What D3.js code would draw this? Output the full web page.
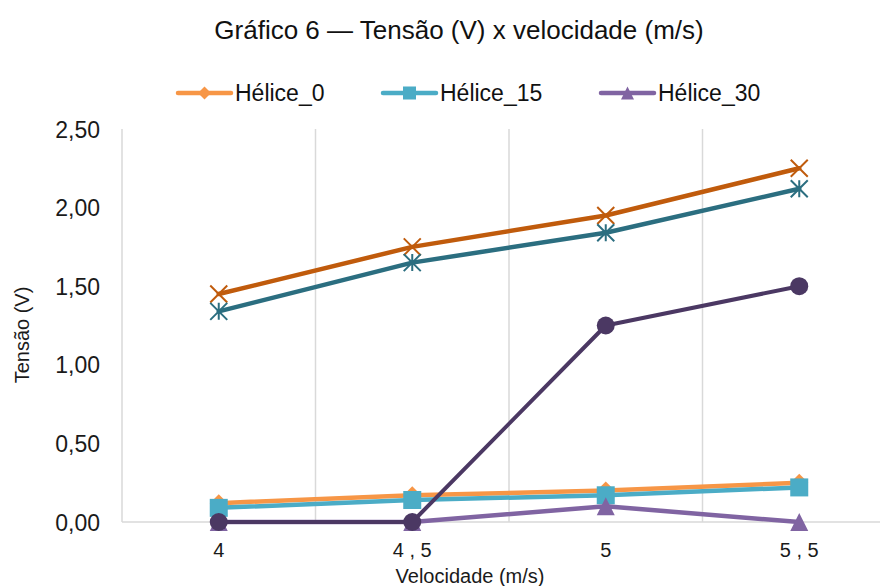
<!DOCTYPE html>
<html>
<head>
<meta charset="utf-8">
<script src="https://cdn.jsdelivr.net/npm/d3@7"></script>
<style>
  html, body { margin: 0; padding: 0; background: #fff; }
  svg { display: block; font-family: "Liberation Sans", Arial, sans-serif; }
</style>
</head>
<body>
<svg id="chart" width="880" height="586"></svg>
<script>
// Velocidades (m/s) e tensões medidas (V)
const categories = ["4", "4 , 5", "5", "5 , 5"];
const yTicks = [0, 0.5, 1, 1.5, 2, 2.5];

const helice0  = [0.12, 0.17, 0.20, 0.25];
const helice15 = [0.09, 0.14, 0.17, 0.22];
const helice30 = [0.00, 0.00, 0.10, 0.00];
const serie4   = [1.45, 1.75, 1.95, 2.25];
const serie5   = [1.34, 1.65, 1.84, 2.12];
const serie6   = [0.00, 0.00, 1.25, 1.50];

const seriesNames = ["Hélice_0", "Hélice_15", "Hélice_30", "Série4", "Série5", "Série6"];
const seriesValues = [helice0, helice15, helice30, serie4, serie5, serie6];
const seriesColors = ["#F79646", "#4BACC6", "#8064A2", "#C05B0C", "#2B6E80", "#4B3863"];
const seriesMarkers = ["diamond", "square", "triangle", "x", "asterisk", "circle"];

const svg = d3.select("#chart");
const margin = { left: 122, top: 129, bottom: 522 };

const x = d3.scaleBand().domain(categories).range([margin.left, margin.left + 774]).paddingInner(0).paddingOuter(0);
const y = d3.scaleLinear().domain([0, 2.5]).range([margin.bottom, margin.top]);
const cx = c => x(c) + x.bandwidth() / 2;

// Grade vertical entre categorias
svg.append("g").selectAll("line")
  .data(categories)
  .enter().append("line")
  .attr("x1", c => x(c)).attr("x2", c => x(c))
  .attr("y1", margin.top).attr("y2", margin.bottom)
  .attr("stroke", "#D9D9D9").attr("stroke-width", 1.5);

// Eixo Y
const yAxis = d3.axisLeft(y).tickValues(yTicks)
  .tickFormat(d => d3.format(".2f")(d).replace(".", ","))
  .tickSize(0).tickPadding(22);
const yG = svg.append("g").attr("transform", `translate(${margin.left},0)`).call(yAxis);
yG.select(".domain").remove();
yG.selectAll("text").attr("font-size", 23).attr("fill", "#1a1a1a").attr("dy", "0.35em");

// Linha base
svg.append("line")
  .attr("x1", margin.left).attr("x2", 880)
  .attr("y1", y(0)).attr("y2", y(0))
  .attr("stroke", "#D9D9D9").attr("stroke-width", 1.5);

// Eixo X
const xAxis = d3.axisBottom(x).tickSize(0).tickPadding(21);
const xG = svg.append("g").attr("transform", `translate(0,${margin.bottom})`).call(xAxis);
xG.select(".domain").remove();
xG.selectAll("text").attr("font-size", 20).attr("fill", "#1a1a1a");

// Títulos
svg.append("text").attr("x", 459).attr("y", 39).attr("text-anchor", "middle")
  .attr("font-size", 26).attr("fill", "#111")
  .text("Gráfico 6 — Tensão (V) x velocidade (m/s)");
svg.append("text").attr("x", 470).attr("y", 583).attr("text-anchor", "middle")
  .attr("font-size", 20).attr("fill", "#1a1a1a").text("Velocidade (m/s)");
svg.append("text")
  .attr("transform", `translate(29,335) rotate(-90)`)
  .attr("text-anchor", "middle").attr("font-size", 20).attr("fill", "#1a1a1a")
  .text("Tensão (V)");

// Marcadores
function drawMarker(g, type, px, py, color, s) {
  const h = s / 2;
  if (type === "diamond") {
    g.append("path").attr("d", `M${px},${py - h}L${px + h},${py}L${px},${py + h}L${px - h},${py}Z`).attr("fill", color);
  } else if (type === "square") {
    g.append("rect").attr("x", px - h).attr("y", py - h).attr("width", s).attr("height", s).attr("fill", color);
  } else if (type === "triangle") {
    g.append("path").attr("d", `M${px},${py - h}L${px + h},${py + h}L${px - h},${py + h}Z`).attr("fill", color);
  } else if (type === "circle") {
    g.append("circle").attr("cx", px).attr("cy", py).attr("r", h).attr("fill", color);
  } else if (type === "x") {
    g.append("path").attr("d", `M${px - h},${py - h}L${px + h},${py + h}M${px + h},${py - h}L${px - h},${py + h}`)
      .attr("stroke", color).attr("stroke-width", 2).attr("fill", "none");
  } else if (type === "asterisk") {
    g.append("path").attr("d", `M${px - h},${py - h}L${px + h},${py + h}M${px + h},${py - h}L${px - h},${py + h}M${px},${py - h}L${px},${py + h}`)
      .attr("stroke", color).attr("stroke-width", 2).attr("fill", "none");
  }
}

const line = d3.line().x((d, i) => cx(categories[i])).y(d => y(d));
const markerSizes = [18, 18, 18, 17, 17, 18];

seriesValues.forEach((vals, si) => {
  const g = svg.append("g");
  g.append("path").datum(vals).attr("d", line)
    .attr("fill", "none").attr("stroke", seriesColors[si])
    .attr("stroke-width", si === 5 ? 4 : 4.5).attr("stroke-linejoin", "round").attr("stroke-linecap", "round");
  vals.forEach((v, i) => drawMarker(g, seriesMarkers[si], cx(categories[i]), y(v), seriesColors[si], markerSizes[si]));
});

// Legenda
const legendItems = [
  { idx: 0, x0: 178 },
  { idx: 1, x0: 383 },
  { idx: 2, x0: 601 }
];
const lg = svg.append("g");
legendItems.forEach(it => {
  const ly = 93;
  lg.append("line").attr("x1", it.x0).attr("x2", it.x0 + 53).attr("y1", ly).attr("y2", ly)
    .attr("stroke", seriesColors[it.idx]).attr("stroke-width", 4.5).attr("stroke-linecap", "round");
  drawMarker(lg, seriesMarkers[it.idx], it.x0 + 26.5, ly, seriesColors[it.idx], 13);
  lg.append("text").attr("x", it.x0 + 57).attr("y", ly).attr("dy", "0.35em")
    .attr("font-size", 23).attr("fill", "#111").text(seriesNames[it.idx]);
});
</script>
</body>
</html>
